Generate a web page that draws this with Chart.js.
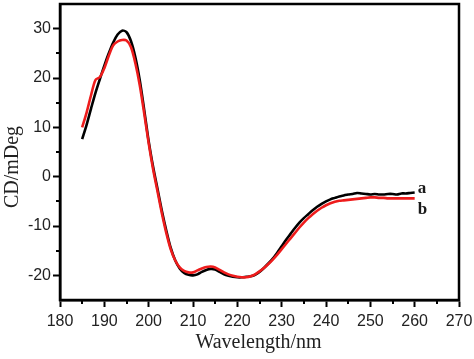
<!DOCTYPE html>
<html>
<head>
<meta charset="utf-8">
<script src="https://cdn.jsdelivr.net/npm/chart.js@4/dist/chart.umd.min.js"></script>
<style>
  html, body { margin: 0; padding: 0; background: #fff; }
  #wrap { width: 474px; height: 359px; }
</style>
</head>
<body>
<div id="wrap"><canvas id="myChart"></canvas></div>
<script>
// wavelengths (nm), one reading per nm
const wavelength = [];
for (let w = 185; w <= 260; w++) wavelength.push(w);

// curve a (black)
const cdA = [
  7.6, 10.5, 13.8, 17.0, 19.8, 22.5, 25.0, 27.2, 28.8, 29.6,
  29.3, 27.5, 24.2, 19.5, 13.5, 7.2, 2.0, -2.5, -7.0, -11.0,
  -14.5, -17.0, -18.6, -19.5, -19.9, -20.0, -19.8, -19.3, -18.9, -18.7,
  -18.8, -19.3, -19.8, -20.1, -20.3, -20.4, -20.4, -20.3, -20.2, -19.9,
  -19.3, -18.5, -17.6, -16.6, -15.4, -14.1, -12.8, -11.6, -10.4, -9.3,
  -8.4, -7.6, -6.8, -6.1, -5.5, -5.0, -4.6, -4.3, -4.0, -3.8,
  -3.6, -3.5, -3.3, -3.4, -3.5, -3.6, -3.5, -3.6, -3.6, -3.5,
  -3.5, -3.6, -3.4, -3.4, -3.3, -3.2
];

// curve b (red)
const cdB = [
  10.0, 13.0, 16.5, 19.6, 20.2, 22.0, 24.5, 26.6, 27.4, 27.7,
  27.6, 26.3, 23.0, 18.5, 12.8, 6.8, 1.5, -3.0, -7.5, -11.5,
  -14.8, -17.0, -18.4, -19.1, -19.4, -19.4, -19.0, -18.6, -18.3, -18.2,
  -18.4, -18.9, -19.4, -19.8, -20.1, -20.3, -20.4, -20.4, -20.2, -19.8,
  -19.2, -18.5, -17.7, -16.8, -15.8, -14.7, -13.6, -12.5, -11.4, -10.3,
  -9.3, -8.4, -7.6, -6.9, -6.3, -5.8, -5.4, -5.1, -4.9, -4.8,
  -4.7, -4.6, -4.5, -4.4, -4.3, -4.2, -4.2, -4.3, -4.3, -4.4,
  -4.4, -4.4, -4.4, -4.4, -4.4, -4.4
];

const xTicks = [180, 190, 200, 210, 220, 230, 240, 250, 260, 270];
const yTicks = [-20, -10, 0, 10, 20, 30];
const xMinor = [185, 195, 205, 215, 225, 235, 245, 255, 265];
const yMinor = [-15, -5, 5, 15, 25];
const curveLabels = ['b', 'a'];
const xTitle = 'Wavelength/nm';
const yTitle = 'CD/mDeg';

const toPoints = (ys) => ys.map((y, i) => ({ x: wavelength[i], y: y }));

const tickFont = { family: '"Liberation Sans", Arial, sans-serif', size: 16 };

const decor = {
  id: 'decor',
  afterDraw(chart) {
    const ctx = chart.ctx;
    const a = chart.chartArea;
    const xs = chart.scales.x, ys = chart.scales.y;
    ctx.save();
    // frame
    ctx.strokeStyle = '#000';
    ctx.lineWidth = 2.5;
    ctx.strokeRect(a.left, a.top, a.right - a.left, a.bottom - a.top);
    // minor ticks
    ctx.lineWidth = 2;
    ctx.beginPath();
    xMinor.forEach(v => {
      const px = Math.round(xs.getPixelForValue(v));
      ctx.moveTo(px, a.bottom);
      ctx.lineTo(px, a.bottom + 4);
    });
    yMinor.forEach(v => {
      const py = Math.round(ys.getPixelForValue(v));
      ctx.moveTo(a.left, py);
      ctx.lineTo(a.left - 4, py);
    });
    ctx.stroke();
    // curve labels at line ends
    ctx.fillStyle = '#1a1a1a';
    ctx.font = 'bold 17px "Liberation Serif", "Times New Roman", serif';
    ctx.textBaseline = 'middle';
    ctx.textAlign = 'left';
    chart.data.datasets.forEach((ds, i) => {
      const last = ds.data[ds.data.length - 1];
      const px = xs.getPixelForValue(last.x) + 3;
      const py = ys.getPixelForValue(last.y) + (curveLabels[i] === 'a' ? -4 : 11);
      ctx.fillText(curveLabels[i], px, py);
    });
    // axis titles
    ctx.fillStyle = '#222';
    ctx.font = '20px "Liberation Serif", "Times New Roman", serif';
    ctx.textAlign = 'center';
    ctx.fillText(xTitle, (a.left + a.right) / 2 - 1, 343);
    ctx.translate(13, 167);
    ctx.rotate(-Math.PI / 2);
    ctx.fillText(yTitle, 0, 0);
    ctx.restore();
  }
};

const ctx = document.getElementById('myChart').getContext('2d');
const myChart = new Chart(ctx, {
  type: 'line',
  data: {
    datasets: [{
      label: 'b',
      data: toPoints(cdB),
      borderColor: '#ee1c1c',
      borderWidth: 2.6,
      pointRadius: 0,
      tension: 0.3
    }, {
      label: 'a',
      data: toPoints(cdA),
      borderColor: '#000',
      borderWidth: 2.6,
      pointRadius: 0,
      tension: 0.3
    }]
  },
  plugins: [decor],
  options: {
    responsive: true,
    maintainAspectRatio: false,
    animation: false,
    layout: { padding: { top: 4, right: 15, left: 0, bottom: 0 } },
    plugins: { legend: { display: false }, tooltip: { enabled: false } },
    scales: {
      x: {
        type: 'linear',
        min: 180,
        max: 270,
        afterBuildTicks: (s) => { s.ticks = xTicks.map(v => ({ value: v })); },
        afterFit: (s) => { s.height = 59; s.paddingLeft = 0; s.paddingRight = 0; },
        ticks: { font: tickFont, color: '#222', padding: 5, maxRotation: 0 },
        grid: { drawOnChartArea: false, drawTicks: true, tickLength: 7, tickColor: '#000', tickWidth: 2 },
        border: { display: true, color: '#000', width: 2.5 }
      },
      y: {
        min: -25,
        max: 35,
        afterBuildTicks: (s) => { s.ticks = yTicks.map(v => ({ value: v })); },
        afterFit: (s) => { s.width = 60; s.paddingTop = 0; s.paddingBottom = 0; },
        ticks: { font: tickFont, color: '#222', padding: 2 },
        grid: { drawOnChartArea: false, drawTicks: true, tickLength: 7, tickColor: '#000', tickWidth: 2 },
        border: { display: true, color: '#000', width: 2.5 }
      }
    }
  }
});
</script>
</body>
</html>
